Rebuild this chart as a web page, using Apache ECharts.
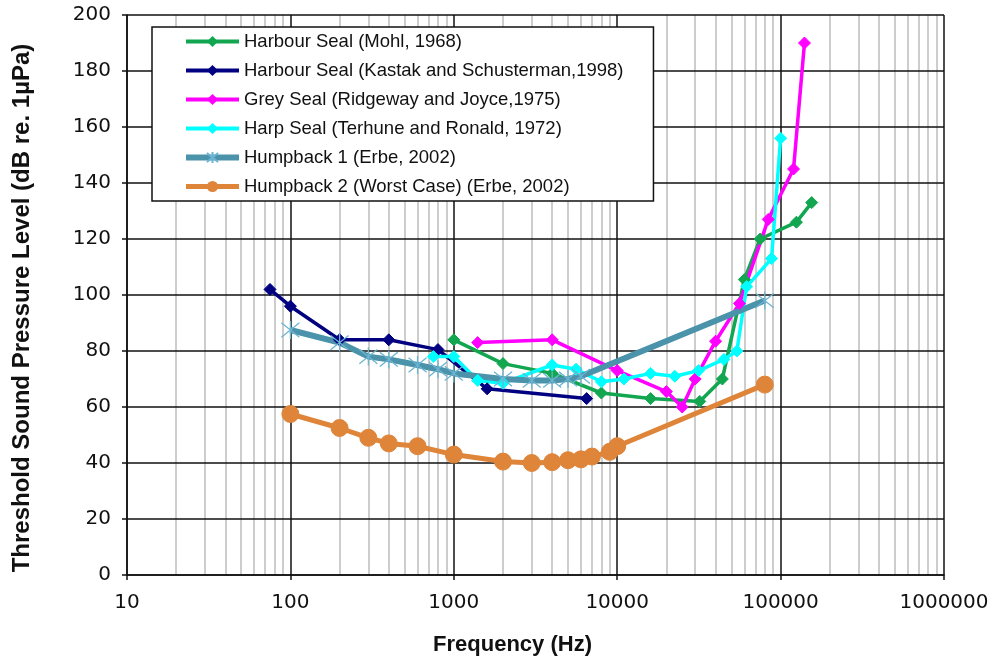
<!DOCTYPE html>
<html>
<head>
<meta charset="utf-8">
<script src="https://cdn.jsdelivr.net/npm/echarts@6/dist/echarts.min.js"></script>
<style>
html,body{margin:0;padding:0;background:#fff;}
#chart{width:995px;height:662px;}
</style>
</head>
<body>
<div id="chart"></div>
<script>
// ---- Data (frequency Hz, threshold dB re 1µPa) ----
const mohlFreq   = [1000, 2000, 4000, 8000, 16000, 32000, 44000, 60000, 75000, 125000, 155000];
const mohlVal    = [84, 75.5, 72, 65, 63, 62, 70, 105.5, 120, 126, 133];

const kastakFreq = [75, 100, 200, 400, 800, 1600, 6500];
const kastakVal  = [102, 96, 84, 84, 80.5, 66.5, 63];

const greyFreq   = [1400, 4000, 10000, 20000, 25000, 30000, 40000, 56000, 84000, 120000, 140000];
const greyVal    = [83, 84, 73, 65.5, 60, 70, 83.5, 97, 127, 145, 190];

const harpFreq   = [750, 1000, 1400, 2000, 4000, 5600, 8000, 11000, 16000, 22500, 31500, 45000, 54000, 62000, 88000, 100000];
const harpVal    = [78, 78, 69.5, 68.5, 75, 73.5, 69, 70, 72, 71, 73, 77, 80, 103, 113, 156];

const hump1Freq  = [100, 200, 300, 400, 600, 800, 1000, 2000, 3000, 4000, 5000, 6000, 80000];
const hump1Val   = [87.5, 83, 78, 77, 75, 73.5, 72, 70, 69.5, 69.5, 70, 71, 98];

const hump2Freq  = [100, 200, 300, 400, 600, 1000, 2000, 3000, 4000, 5000, 6000, 7000, 9000, 10000, 80000];
const hump2Val   = [57.5, 52.5, 49, 47, 46, 43, 40.5, 40, 40.3, 41, 41.3, 42.3, 44, 46, 68];

const seriesNames = [
  'Harbour Seal (Mohl, 1968)',
  'Harbour Seal (Kastak and Schusterman,1998)',
  'Grey Seal (Ridgeway and Joyce,1975)',
  'Harp Seal (Terhune and Ronald, 1972)',
  'Humpback 1 (Erbe, 2002)',
  'Humpback 2 (Worst Case) (Erbe, 2002)'
];
const seriesColors = ['#12A650', '#000080', '#FF00FF', '#00FFFF', '#4A93AB', '#DF853A'];

// axis tick settings
const xMin = 10, xMax = 1000000;
const yMin = 0, yMax = 200, yStep = 20;
const minorMultipliers = [2, 3, 4, 5, 6, 7, 8, 9];
const decades = [10, 100, 1000, 10000, 100000];

function pairs(f, v) { return f.map((x, i) => [x, v[i]]); }

const minorLines = [];
decades.forEach(d => minorMultipliers.forEach(m => minorLines.push({ xAxis: d * m })));

const asterisk = 'path://M0,-10 L0,10 M-8,-8 L8,8 M8,-8 L-8,8';

function sealSeries(i, f, v) {
  const color = seriesColors[i];
  return {
    name: seriesNames[i], type: 'line', data: pairs(f, v),
    symbol: 'diamond', symbolSize: 12,
    lineStyle: { color: color, width: 3.5 },
    itemStyle: { color: color, borderColor: color },
    emphasis: { disabled: true }
  };
}

const chart = echarts.init(document.getElementById('chart'), null, { renderer: 'canvas' });
const FONT = 'Liberation Sans';
const TICKFONT = 'DejaVu Sans';

const legendWidths = [4, 4, 4, 4, 6, 5];

chart.setOption({
  animation: false,
  backgroundColor: '#fff',
  textStyle: { fontFamily: FONT },
  grid: { left: 127, right: 51, top: 15, bottom: 87, containLabel: false },
  xAxis: {
    type: 'log', logBase: 10, min: xMin, max: xMax,
    name: 'Frequency (Hz)', nameLocation: 'middle', nameGap: 59,
    nameTextStyle: { fontFamily: FONT, fontSize: 22, fontWeight: 'bold', color: '#111', padding: [0, 46, 0, 0] },
    axisLine: { lineStyle: { color: '#111', width: 1.5 } },
    axisTick: { show: true, length: 5, lineStyle: { color: '#111', width: 1.5 } },
    axisLabel: { fontFamily: TICKFONT, fontSize: 20, color: '#111', margin: 18, formatter: v => String(Math.round(v)) },
    splitLine: { show: true, lineStyle: { color: '#111', width: 1.5 } },
    minorTick: { show: false }, minorSplitLine: { show: false }
  },
  yAxis: {
    type: 'value', min: yMin, max: yMax, interval: yStep,
    name: 'Threshold Sound Pressure Level (dB re. 1µPa)', nameLocation: 'middle', nameGap: 93,
    nameTextStyle: { fontFamily: FONT, fontSize: 24, fontWeight: 'bold', color: '#111', padding: [0, 26, 0, 0] },
    axisLine: { show: true, lineStyle: { color: '#111', width: 1.5 } },
    axisTick: { show: true, length: 5, lineStyle: { color: '#111', width: 1.5 } },
    axisLabel: { fontFamily: TICKFONT, fontSize: 20, color: '#111', margin: 16 },
    splitLine: { show: true, lineStyle: { color: '#111', width: 1.5 } }
  },
  legend: {
    show: true, orient: 'vertical', left: 152, top: 27,
    padding: [5, 30, 5, 31],
    itemWidth: 53, itemHeight: 14, itemGap: 10,
    backgroundColor: '#fff', borderColor: '#111', borderWidth: 1.5,
    textStyle: { fontFamily: FONT, fontSize: 18.5, color: '#111' },
    data: seriesNames.map((n, i) => ({ name: n, lineStyle: { width: legendWidths[i], color: seriesColors[i] } })),
    selectedMode: false,
    z: 10
  },
  series: [
    {
      name: 'minorGrid', type: 'line', data: [[xMin, yMin]], symbol: 'none',
      lineStyle: { opacity: 0 }, silent: true, z: -1,
      markLine: {
        silent: true, symbol: 'none', label: { show: false }, z: -1,
        lineStyle: { color: '#bdbdbd', width: 1.5, type: 'solid' },
        emphasis: { disabled: true },
        data: minorLines
      }
    },
    sealSeries(0, mohlFreq, mohlVal),
    sealSeries(1, kastakFreq, kastakVal),
    sealSeries(2, greyFreq, greyVal),
    sealSeries(3, harpFreq, harpVal),
    {
      name: seriesNames[4], type: 'line', data: pairs(hump1Freq, hump1Val),
      symbol: asterisk, symbolSize: 18,
      lineStyle: { color: seriesColors[4], width: 6 },
      itemStyle: { color: seriesColors[4], borderColor: '#6BB4D2', borderWidth: 1.3 },
      emphasis: { disabled: true }
    },
    {
      name: seriesNames[5], type: 'line', data: pairs(hump2Freq, hump2Val),
      symbol: 'circle', symbolSize: 17,
      lineStyle: { color: seriesColors[5], width: 5 },
      itemStyle: { color: seriesColors[5], borderColor: seriesColors[5] },
      emphasis: { disabled: true }
    }
  ]
});
</script>
</body>
</html>
